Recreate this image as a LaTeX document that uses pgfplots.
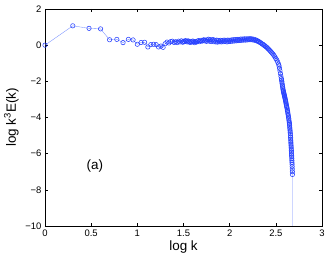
\documentclass[border=0pt]{standalone}
\usepackage{pgfplots}
\pgfplotsset{compat=1.18}
\usepackage{fontspec}
\setmainfont{Liberation Sans}
\definecolor{mblue}{rgb}{0.15,0.25,1}
\definecolor{lblue}{rgb}{0.45,0.55,1}
\begin{document}
\begin{tikzpicture}
\begin{axis}[
  scale only axis, width=277bp, height=217bp,
  xmin=0, xmax=3, ymin=-10, ymax=2,
  xtick={0,0.5,1,1.5,2,2.5,3},
  xticklabels={0,0.5,1,1.5,2,2.5,3},
  ytick={-10,-8,-6,-4,-2,0,2},
  yticklabels={−10,−8,−6,−4,−2,0,2},
  tick align=inside, major tick length=3bp,
  tick style={black, line width=0.5pt},
  axis line style={black, line width=0.7pt},
  ticklabel style={font=\fontsize{9.5}{10}\selectfont},
  xlabel={log k}, ylabel={log k\textsuperscript{3}E(k)},
  xlabel style={yshift=2bp},
  label style={font=\fontsize{13.5}{14}\selectfont},
  clip=true,
]
\addplot[color=lblue, line width=0.35pt, mark=o,
  mark options={draw=mblue, line width=0.55pt, mark size=2.2bp}] coordinates {
(0.000,0.00) (0.301,1.07) (0.477,0.93) (0.602,0.90) (0.699,0.30)
(0.778,0.32) (0.845,0.14) (0.903,0.32) (0.954,0.29) (1.000,0.05)
(1.041,0.15) (1.079,0.16) (1.114,-0.10) (1.146,0.03) (1.176,0.05)
(1.204,0.03) (1.230,-0.10) (1.255,-0.05) (1.279,-0.12) (1.301,0.08)
(1.322,0.17) (1.342,0.12) (1.362,0.20) (1.380,0.22) (1.398,0.15)
(1.415,0.19) (1.431,0.14) (1.447,0.22) (1.462,0.18) (1.477,0.24)
(1.491,0.16) (1.50,0.21) (1.51,0.19) (1.52,0.25) (1.53,0.22)
(1.54,0.18) (1.55,0.24) (1.56,0.20) (1.57,0.15) (1.58,0.21)
(1.59,0.17) (1.60,0.23) (1.61,0.19) (1.62,0.14) (1.63,0.20)
(1.64,0.17) (1.65,0.22) (1.66,0.25) (1.67,0.19) (1.68,0.23)
(1.69,0.27) (1.70,0.22) (1.71,0.26) (1.72,0.30) (1.73,0.24)
(1.74,0.28) (1.75,0.21) (1.76,0.29) (1.77,0.33) (1.78,0.22)
(1.79,0.31) (1.80,0.20) (1.81,0.27) (1.82,0.31) (1.83,0.19)
(1.84,0.27) (1.85,0.18) (1.86,0.28) (1.87,0.17) (1.88,0.26)
(1.89,0.19) (1.90,0.27) (1.91,0.18) (1.92,0.26) (1.93,0.19)
(1.94,0.28) (1.95,0.20) (1.96,0.27) (1.97,0.18) (1.98,0.28)
(1.99,0.20) (2.00,0.27) (2.01,0.21) (2.02,0.29) (2.03,0.22)
(2.04,0.30) (2.05,0.23) (2.06,0.31) (2.07,0.24) (2.08,0.32)
(2.09,0.25) (2.10,0.32) (2.11,0.26) (2.12,0.34) (2.13,0.27)
(2.14,0.34) (2.15,0.28) (2.16,0.35) (2.17,0.28) (2.18,0.35)
(2.19,0.29) (2.20,0.35) (2.21,0.30) (2.22,0.36) (2.23,0.30)
(2.24,0.35) (2.25,0.29) (2.26,0.33) (2.27,0.27) (2.28,0.30)
(2.29,0.24) (2.30,0.25) (2.31,0.20) (2.32,0.19) (2.33,0.14)
(2.34,0.12) (2.35,0.07) (2.36,0.05) (2.37,0.00) (2.38,-0.03)
(2.39,-0.08) (2.40,-0.11) (2.41,-0.17) (2.42,-0.21) (2.43,-0.27)
(2.44,-0.32) (2.45,-0.38) (2.46,-0.44) (2.47,-0.50) (2.48,-0.57)
(2.49,-0.65) (2.50,-0.74) (2.51,-0.82) (2.52,-0.93) (2.530,-1.05)
(2.535,-1.15) (2.540,-1.28) (2.545,-1.42) (2.550,-1.57) (2.555,-1.72)
(2.560,-1.85) (2.5625,-1.93) (2.565,-2.02) (2.5675,-2.11) (2.570,-2.20)
(2.5725,-2.28) (2.575,-2.36) (2.5775,-2.43) (2.580,-2.50) (2.5825,-2.56)
(2.585,-2.62) (2.5875,-2.67) (2.590,-2.73) (2.5925,-2.78) (2.595,-2.84)
(2.5975,-2.89) (2.600,-2.95) (2.6025,-3.01) (2.605,-3.07) (2.6075,-3.13)
(2.610,-3.20) (2.6125,-3.26) (2.615,-3.33) (2.6175,-3.39) (2.620,-3.45)
(2.6225,-3.52) (2.625,-3.60) (2.6275,-3.67) (2.630,-3.75) (2.6325,-3.83)
(2.635,-3.91) (2.6375,-3.99) (2.640,-4.07) (2.6425,-4.16) (2.645,-4.25)
(2.6465,-4.31) (2.648,-4.38) (2.6495,-4.46) (2.651,-4.55) (2.6525,-4.63)
(2.654,-4.72) (2.6555,-4.81) (2.657,-4.90) (2.6585,-5.00) (2.660,-5.10)
(2.661,-5.19) (2.662,-5.28) (2.663,-5.37) (2.664,-5.46) (2.665,-5.55)
(2.666,-5.64) (2.667,-5.73) (2.668,-5.82) (2.669,-5.91) (2.670,-6.00)
(2.671,-6.09) (2.672,-6.18) (2.673,-6.28) (2.674,-6.38) (2.675,-6.48)
(2.676,-6.58) (2.677,-6.71) (2.678,-6.85) (2.679,-7.00) (2.680,-7.15)
(2.680,-20)
};
\node[font=\fontsize{13.5}{14}\selectfont] at (axis cs:0.54,-6.7) {(a)};
\end{axis}
\pgfresetboundingbox
\path ([shift={(-45bp,-30bp)}]current axis.south west) rectangle ([shift={(5bp,9bp)}]current axis.north east);
\end{tikzpicture}
\end{document}
